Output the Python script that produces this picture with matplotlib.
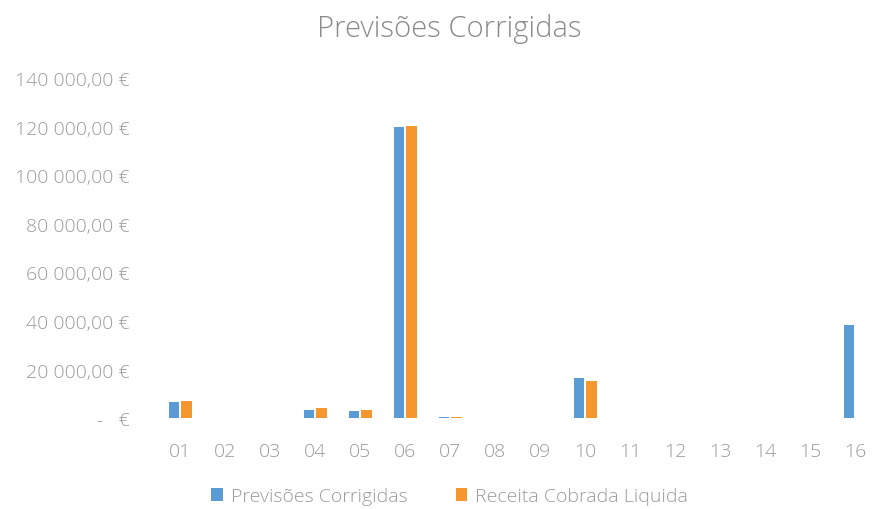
import matplotlib
matplotlib.use("Agg")
import matplotlib.pyplot as plt
import numpy as np
from matplotlib.ticker import FuncFormatter

categories = ["01", "02", "03", "04", "05", "06", "07", "08",
              "09", "10", "11", "12", "13", "14", "15", "16"]
previsoes = [6600, 0, 0, 3300, 2900, 120000, 300, 0,
             0, 16500, 0, 0, 0, 0, 0, 38300]
receita = [7000, 0, 0, 4100, 3300, 120200, 300, 0,
           0, 15200, 0, 0, 0, 0, 0, 0]

BLUE = "#5B9BD5"
ORANGE = "#F5962F"
TXT = "#9A9A9A"

plt.rcParams["font.family"] = ["Open Sans", "DejaVu Sans"]
plt.rcParams["font.weight"] = "light"


def euro(v, _pos):
    if v == 0:
        return "-   €"
    s = f"{int(v):,}".replace(",", " ")
    return f"{s},00 €"


fig = plt.figure(figsize=(8.73, 5.10), dpi=100)
ax = fig.add_axes([0.1805, 0.178, 0.825, 0.667])

x = np.arange(len(categories))
w = 0.235
ax.bar(x - w / 2 - 0.02, previsoes, w, color=BLUE, label="Previsões Corrigidas")
ax.bar(x + w / 2 + 0.02, receita, w, color=ORANGE, label="Receita Cobrada Liquida")

ax.set_xlim(-0.5, len(categories) - 0.5)
ax.set_ylim(0, 140000)
ax.set_yticks(np.arange(0, 140001, 20000))
ax.yaxis.set_major_formatter(FuncFormatter(euro))
ax.set_xticks(x)
ax.set_xticklabels(categories)

for s in ax.spines.values():
    s.set_visible(False)
ax.tick_params(length=0, colors=TXT, labelsize=14)
ax.tick_params(axis="y", pad=20)
ax.tick_params(axis="x", pad=17)

fig.text(0.515, 0.943, "Previsões Corrigidas", ha="center", va="center",
         fontsize=21, color="#8A8A8A")

fig.legend(loc="center", bbox_to_anchor=(0.515, 0.025), ncol=2, frameon=False,
           fontsize=14, labelcolor=TXT, handlelength=0.6, handleheight=0.6,
           handletextpad=0.4, columnspacing=2.5)

fig.savefig("out.png", dpi=100)
